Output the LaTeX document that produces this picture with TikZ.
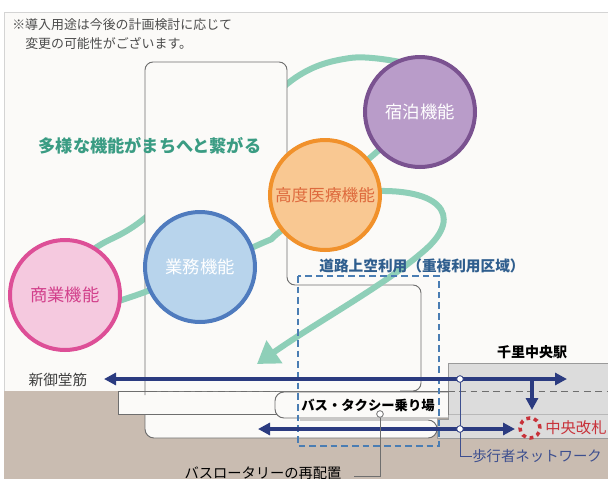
\documentclass[tikz,border=0pt]{standalone}
\usepackage{fontspec}
\setmainfont{Noto Sans CJK JP}
\usetikzlibrary{arrows.meta}

\definecolor{paper}{HTML}{FBFAF8}
\definecolor{ground}{HTML}{C9BCB1}
\definecolor{station}{HTML}{DCDCDC}
\definecolor{stationline}{HTML}{9A9A9A}
\definecolor{framegray}{HTML}{D4D4D4}
\definecolor{wallgray}{HTML}{6E6E6E}
\definecolor{loopteal}{HTML}{8ECFB8}
\definecolor{tealtext}{HTML}{3A9C83}
\definecolor{navy}{HTML}{2B3B80}
\definecolor{walkblue}{HTML}{3D4F8F}
\definecolor{roadblue}{HTML}{4A7DB3}
\definecolor{roadtext}{HTML}{2F5E8E}
\definecolor{gatered}{HTML}{C8323A}
\definecolor{purpfill}{HTML}{B99CC9}
\definecolor{purpline}{HTML}{7A5290}
\definecolor{orfill}{HTML}{F9C892}
\definecolor{orline}{HTML}{F1912B}
\definecolor{ortext}{HTML}{DE6A3D}
\definecolor{blfill}{HTML}{B8D4EC}
\definecolor{blline}{HTML}{4F7BBE}
\definecolor{pkfill}{HTML}{F5C9DF}
\definecolor{pkline}{HTML}{DD4F97}
\definecolor{pktext}{HTML}{D2408B}

\begin{document}
\begin{tikzpicture}[x=0.75pt,y=-0.75pt,
  funcball/.style={circle,minimum size=82.5pt,inner sep=0pt,line width=3pt,
    font=\fontsize{13pt}{15pt}\selectfont},
  loopline/.style={draw=loopteal,line width=4.5pt},
  mainroad/.style={draw=navy,line width=2.6pt},
  navyhead/.style={-{Triangle[length=9pt,width=9pt]}},
  wall/.style={draw=wallgray,line width=0.7pt},
  joint/.style={circle,draw=navy,fill=white,line width=0.6pt,minimum size=5pt,inner sep=0pt},
  gate/.style={circle,draw=gatered,line width=2.6pt,minimum size=15pt,inner sep=0pt,
    dash pattern=on 2.9pt off 2.9pt},
  label/.style={inner sep=0pt}]

\useasboundingbox (0,0) rectangle (608,479);
\fill[white] (0,0) rectangle (608,479);
\fill[paper] (4,12) rectangle (608,479);
\draw[framegray,line width=0.6pt] (4,479) -- (4,12) -- (608,12);

% ground and station
\fill[ground] (4,391) rectangle (608,479);
\draw[draw=stationline,fill=station,line width=0.6pt] (608,363) -- (448,363) -- (448,419) -- (437,419) -- (437,438) -- (608,438);
\draw[stationline!70,line width=0.4pt] (448,414) -- (608,414);

% loop, back part
\draw[loopline] plot[smooth,tension=0.6] coordinates {(75,262) (100,245) (145,218) (230,140) (295,78) (350,58) (400,62)};

% lane and strip
\fill[paper,rounded corners=6.75pt] (145,405) -- (145,438) -- (437,438) -- (437,405) -- cycle;
\draw[wall,rounded corners=6.75pt] (145,391) -- (145,438) -- (437,438) -- (437,420) -- (300,420);
\draw[wall,fill=paper] (118,391) rectangle (448,414);

% building
\fill[paper,rounded corners=6pt] (145,391) -- (145,62) -- (287,62) -- (287,285) -- (421,285) -- (421,391) -- cycle;
\draw[wall,rounded corners=6pt] (145,395) -- (145,62) -- (287,62) -- (287,285) -- (421,285) -- (421,391) -- (400,391);
\draw[wall,dashed,dash pattern=on 5pt off 3.5pt] (150,391) -- (275,391);
\draw[wall,dashed,dash pattern=on 5pt off 3.5pt] (448,391) -- (608,391);

% bus bay
\draw[wall,fill=paper,rounded corners=6.75pt] (448,392) -- (275,392) -- (275,418) -- (448,418);
\node[label,font=\fontsize{10pt}{12pt}\selectfont\bfseries] (busbay) at (368,405) {バス・タクシー乗り場};

% loop, front part and arrow
\draw[loopline] plot[smooth,tension=0.6] coordinates {(80,312) (145,292) (258,245) (282,230) (371,157) (405,125)};
\draw[loopline,-{Triangle[length=16pt,width=20pt]}] (360,192) .. controls (440,185) and (465,215) .. (425,250) .. controls (385,285) and (320,320) .. (257,364);

% overlap zone
\draw[roadblue,line width=1.1pt,dash pattern=on 5pt off 3pt] (298,276) rectangle (439,446);
\node[label,text=roadtext,font=\fontsize{11pt}{13pt}\selectfont\bfseries] (roadlbl) at (422,266) {道路上空利用（重複利用区域）};

% functions
\node[funcball,fill=purpfill,draw=purpline,text=white] (shuku) at (420,112) {宿泊機能};
\node[funcball,fill=orfill,draw=orline,text=ortext,font=\fontsize{12.5pt}{15pt}\selectfont] (iryo) at (325,195) {高度医療機能};
\node[funcball,fill=blfill,draw=blline,text=white] (gyomu) at (200,267) {業務機能};
\node[funcball,fill=pkfill,draw=pkline,text=pktext] (shogyo) at (65,295) {商業機能};
\node[label,text=tealtext,font=\fontsize{12.9pt}{15pt}\selectfont\bfseries] (tag) at (150,146) {多様な機能がまちへと繋がる};

% notes
\node[label,anchor=west,text=black!70,font=\fontsize{9.7pt}{12pt}\selectfont] (note1) at (12,25) {※導入用途は今後の計画検討に応じて};
\node[label,anchor=west,text=black!70,font=\fontsize{9.7pt}{12pt}\selectfont] (note2) at (25,43) {変更の可能性がございます。};

% roads
\coordinate (shinW) at (104,379);
\coordinate (shinE) at (567,379);
\coordinate (laneW) at (258,429);
\coordinate (laneE) at (515,429);
\coordinate (drop) at (532,379);
\coordinate (dropend) at (532,410);
\node[gate] (gate) at (530,428) {};
\node[label,anchor=west,text=walkblue,font=\fontsize{10.8pt}{13pt}\selectfont] (walk) at (472,456) {歩行者ネットワーク};
\draw[walkblue,line width=0.7pt] (460,379) -- (460,456) -- (walk.west);
\draw[mainroad,{Triangle[length=9pt,width=9pt]}-{Triangle[length=9pt,width=9pt]}] (shinW) -- (shinE);
\draw[mainroad,{Triangle[length=9pt,width=9pt]}-{Triangle[length=9pt,width=9pt]}] (laneW) -- (laneE);
\draw[mainroad,navyhead] (drop) -- (dropend);
\node[joint] (j1) at (460,379) {};
\node[joint] (j2) at (460,429) {};

\node[label,anchor=west,text=gatered,font=\fontsize{11.5pt}{13pt}\selectfont] (gatelbl) at (545,428) {中央改札};
\node[label,font=\fontsize{10.5pt}{13pt}\selectfont\bfseries] (station) at (532,352) {千里中央駅};
\node[label,text=black!75,font=\fontsize{11pt}{13pt}\selectfont] (mido) at (58,380) {新御堂筋};

% rotary
\node[circle,draw=wallgray,fill=white,line width=0.6pt,minimum size=5pt,inner sep=0pt] (rdot) at (380,414) {};
\coordinate (rotaryend) at (354,476);
\draw[wall] (rdot) |- (rotaryend);
\node[label,font=\fontsize{10.7pt}{13pt}\selectfont] (rotary) at (263,473) {バスロータリーの再配置};
\end{tikzpicture}
\end{document}
